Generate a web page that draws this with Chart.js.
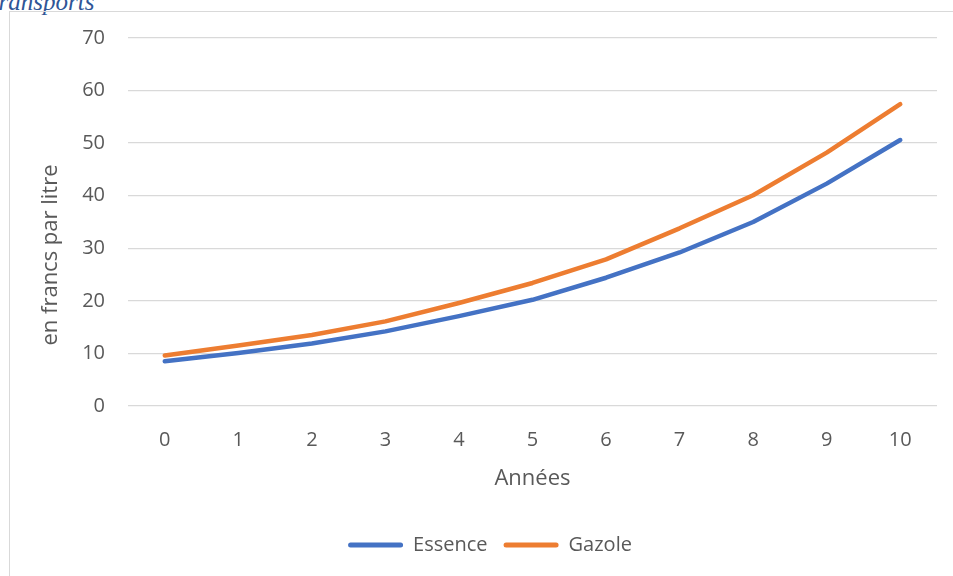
<!DOCTYPE html>
<html>
<head>
<meta charset="utf-8">
<script src="https://cdn.jsdelivr.net/npm/chart.js@4/dist/chart.umd.min.js"></script>
<style>
  html, body { margin: 0; padding: 0; width: 953px; height: 576px; overflow: hidden; background: #fff; }
  #frame { position: absolute; left: 9px; top: 11px; width: 1000px; height: 700px; border: 1.5px solid #D9D9D9; box-sizing: border-box; }
  #doc { position: absolute; left: -14px; top: -11px; font: italic 25px "Liberation Serif", "DejaVu Serif", serif; color: #2F5597; line-height: 25px; white-space: nowrap; }
  #wrap { position: absolute; left: 0; top: 0; width: 953px; height: 576px; }
</style>
</head>
<body>
<div id="doc">Transports</div>
<div id="frame"></div>
<div id="wrap"><canvas id="c" width="953" height="576"></canvas></div>
<script>
const years = ['0', '1', '2', '3', '4', '5', '6', '7', '8', '9', '10'];
const essence = [8.5, 10.1, 11.9, 14.2, 17.1, 20.2, 24.4, 29.2, 35.0, 42.3, 50.6];
const gazole = [9.6, 11.5, 13.5, 16.1, 19.6, 23.4, 27.9, 33.8, 40.1, 48.2, 57.4];
const seriesNames = ['Essence', 'Gazole'];
const seriesColors = ['#4472C4', '#ED7D31'];
const xTitle = 'Années';
const yTitle = 'en francs par litre';

const FONT = '"Open Sans", "Noto Sans", sans-serif';
const GREY = '#595959';

const yTitlePlugin = {
  id: 'yTitle',
  afterDraw(chart) {
    const ctx = chart.ctx;
    ctx.save();
    ctx.font = '22px ' + FONT;
    ctx.fillStyle = GREY;
    ctx.textAlign = 'center';
    ctx.textBaseline = 'middle';
    ctx.translate(51, 255);
    ctx.rotate(-Math.PI / 2);
    ctx.fillText(yTitle, 0, 0);
    ctx.restore();
  }
};

new Chart(document.getElementById('c'), {
  type: 'line',
  data: {
    labels: years,
    datasets: [
      { label: seriesNames[0], data: essence, borderColor: seriesColors[0], backgroundColor: seriesColors[0] },
      { label: seriesNames[1], data: gazole, borderColor: seriesColors[1], backgroundColor: seriesColors[1] }
    ]
  },
  options: {
    responsive: false,
    animation: false,
    events: [],
    devicePixelRatio: 1,
    layout: { padding: { left: 43, right: 16, top: 38, bottom: 11 } },
    elements: {
      line: { borderWidth: 4.5, tension: 0, borderCapStyle: 'round', borderJoinStyle: 'round', fill: false },
      point: { radius: 0, hoverRadius: 0 }
    },
    plugins: {
      tooltip: { enabled: false },
      title: { display: false },
      legend: {
        display: true,
        position: 'bottom',
        align: 'center',
        labels: {
          boxWidth: 55,
          boxHeight: 5,
          padding: 16,
          color: GREY,
          font: { family: FONT, size: 20 },
          generateLabels(chart) {
            return chart.data.datasets.map((ds, i) => ({
              text: ds.label,
              fillStyle: ds.borderColor,
              strokeStyle: ds.borderColor,
              lineWidth: 0,
              borderRadius: 2.5,
              fontColor: GREY,
              hidden: false,
              datasetIndex: i
            }));
          }
        }
      }
    },
    scales: {
      x: {
        type: 'category',
        offset: true,
        grid: { display: false, drawTicks: false },
        border: { display: false },
        ticks: { color: GREY, font: { family: FONT, size: 20 }, padding: 22, maxRotation: 0 },
        title: { display: true, text: xTitle, color: GREY, font: { family: FONT, size: 22 }, padding: { top: 0, bottom: 27 } },
        afterFit(scale) { scale.height = 113; }
      },
      y: {
        min: 0,
        max: 70,
        grid: { color: '#D9D9D9', lineWidth: 1.3, drawTicks: false },
        border: { display: false },
        ticks: { stepSize: 10, color: GREY, font: { family: FONT, size: 20 }, padding: 23 },
        afterFit(scale) { scale.width = 85; }
      }
    }
  },
  plugins: [yTitlePlugin]
});
</script>
</body>
</html>
